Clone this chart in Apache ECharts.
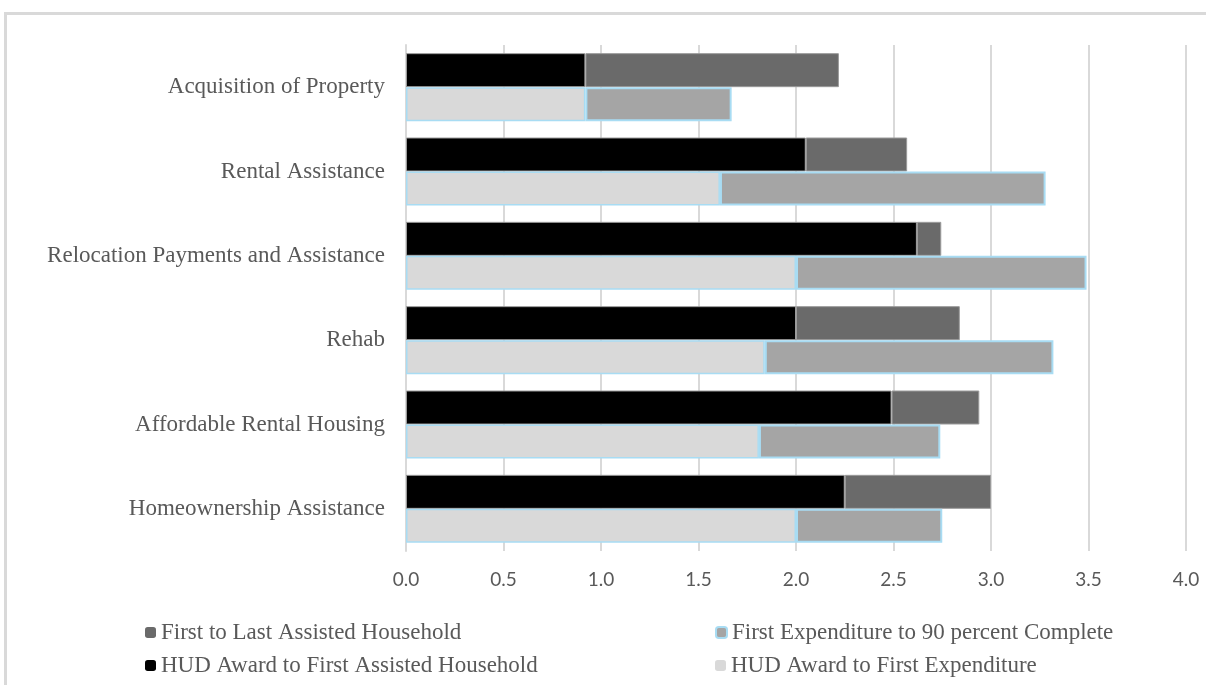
<!DOCTYPE html>
<html>
<head>
<meta charset="utf-8">
<script src="https://cdn.jsdelivr.net/npm/echarts@6/dist/echarts.min.js"></script>
<style>html,body{margin:0;padding:0;background:#fff}#c{width:1206px;height:685px}</style>
</head>
<body>
<div id="c"></div>
<script>
const categories = ['Acquisition of Property','Rental Assistance','Relocation Payments and Assistance','Rehab','Affordable Rental Housing','Homeownership Assistance'];
const hudToFirstHousehold = [0.92, 2.05, 2.62, 2.00, 2.49, 2.25];
const firstToLastHousehold = [1.30, 0.52, 0.125, 0.84, 0.45, 0.75];
const hudToFirstExpenditure = [0.92, 1.61, 2.00, 1.84, 1.81, 2.00];
const firstExpTo90Complete = [0.75, 1.67, 1.49, 1.48, 0.93, 0.75];
const xTicks = {min: 0, max: 4, interval: 0.5};

const FONT = '"Liberation Serif", "DejaVu Serif", serif';
const SANS = 'Lato, "Open Sans", sans-serif';
const TXT = '#595959';
const BLUE = '#a8dcf3';
const chart = echarts.init(document.getElementById('c'), null, {renderer: 'canvas'});
function leg(name, left, top, style) {
  return {data: [{name: name, itemStyle: style}], left: left, top: top, padding: 0, itemWidth: 11, itemHeight: 11, itemGap: 0,
    textStyle: {fontFamily: FONT, fontSize: 23, color: TXT}, selectedMode: false};
}
chart.setOption({
  animation: false,
  backgroundColor: '#fff',
  graphic: [{type: 'rect', shape: {x: 5.5, y: 13.5, width: 1400, height: 900}, style: {fill: 'none', stroke: '#d9d9d9', lineWidth: 3}, silent: true}],
  grid: {left: 406, right: 20, top: 45, bottom: 134, containLabel: false},
  xAxis: {type: 'value', min: xTicks.min, max: xTicks.max, interval: xTicks.interval,
    axisLine: {show: false}, axisTick: {show: false},
    splitLine: {lineStyle: {color: '#d9d9d9', width: 2}},
    axisLabel: {fontFamily: SANS, fontSize: 19, color: TXT, margin: 19, formatter: v => v.toFixed(1)}},
  yAxis: {type: 'category', data: categories, inverse: true,
    axisLine: {show: true, lineStyle: {color: '#d9d9d9', width: 2}}, axisTick: {show: false},
    axisLabel: {fontFamily: FONT, fontSize: 23, color: TXT, margin: 21}},
  legend: [
    leg('First to Last Assisted Household', 145, 621, {borderWidth: 0}),
    leg('First Expenditure to 90 percent Complete', 715, 621, {borderColor: BLUE, borderWidth: 2}),
    leg('HUD Award to First Assisted Household', 145, 654, {borderWidth: 0}),
    leg('HUD Award to First Expenditure', 715, 654, {borderWidth: 0})
  ],
  series: [
    {name: 'HUD Award to First Assisted Household', type: 'bar', stack: 'a', data: hudToFirstHousehold, barWidth: 34, barGap: '0%',
      itemStyle: {color: '#000000', borderColor: '#9a9a9a', borderWidth: 1}},
    {name: 'First to Last Assisted Household', type: 'bar', stack: 'a', data: firstToLastHousehold, barWidth: 34, barGap: '0%',
      itemStyle: {color: '#6a6a6a', borderColor: '#9a9a9a', borderWidth: 1}},
    {name: 'HUD Award to First Expenditure', type: 'bar', stack: 'b', data: hudToFirstExpenditure, barWidth: 34, barGap: '0%',
      itemStyle: {color: '#d9d9d9', borderColor: BLUE, borderWidth: 1.5}},
    {name: 'First Expenditure to 90 percent Complete', type: 'bar', stack: 'b', data: firstExpTo90Complete, barWidth: 34, barGap: '0%',
      itemStyle: {color: '#a5a5a5', borderColor: BLUE, borderWidth: 2}}
  ]
});
</script>
</body>
</html>
